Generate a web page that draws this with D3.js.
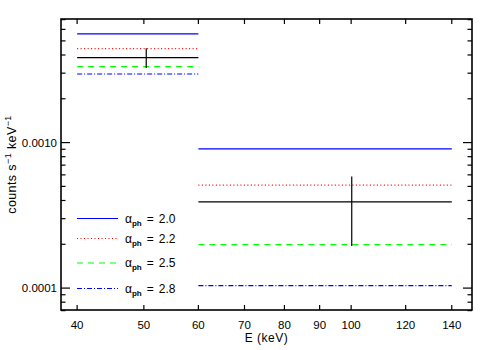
<!DOCTYPE html>
<html>
<head>
<meta charset="utf-8">
<script src="https://cdn.jsdelivr.net/npm/d3@7/dist/d3.min.js"></script>
<style>
  body { margin: 0; background: #fff; }
  text { font-family: "Liberation Sans", Arial, sans-serif; }
</style>
</head>
<body>
<div id="chart"></div>
<script>
// energy bins (keV)
var binLo = [40, 60];
var binHi = [60, 140];

// model curves, one value per bin
var alphas = ['2.0', '2.2', '2.5', '2.8'];
var model20 = [0.00558, 0.000905];
var model22 = [0.00442, 0.00051];
var model25 = [0.00333, 0.000199];
var model28 = [0.00296, 0.000104];

// measured points
var dataE = [50.4, 100.2];
var dataVal = [0.00384, 0.000391];
var dataLo = [0.00326, 0.000195];
var dataHi = [0.00445, 0.000584];

var xTicks = [40, 50, 60, 70, 80, 90, 100, 120, 140];
var yMajor = [0.0001, 0.001];
var yMinor = [0.00007, 0.00008, 0.00009, 0.0002, 0.0003, 0.0004, 0.0005, 0.0006, 0.0007, 0.0008, 0.0009,
              0.002, 0.003, 0.004, 0.005, 0.006, 0.007];

var margin = {top: 19, right: 19, bottom: 40, left: 61},
    width = 491 - margin.left - margin.right,
    height = 350 - margin.top - margin.bottom;

var svg = d3.select("#chart")
    .append("svg")
      .attr("width", 491)
      .attr("height", 350)
    .append("g")
      .attr("transform", "translate(" + margin.left + "," + margin.top + ")");

var x = d3.scaleLog().domain([37.9, 149.8]).range([0, width]);
var y = d3.scaleLog().domain([0.0000707, 0.00707]).range([height, 0]);

var series = [
  {vals: model20, color: "#0000ff", dash: null},
  {vals: model22, color: "#ff0000", dash: "1,2.5"},
  {vals: model25, color: "#00ff00", dash: "6,5"},
  {vals: model28, color: "#0000ff", dash: "5,2,1,2"}
];

// model lines
series.forEach(function(s) {
  svg.append("g")
    .selectAll("line")
    .data(s.vals)
    .enter()
    .append("line")
    .attr("x1", function(d, i) { return x(binLo[i]); })
    .attr("x2", function(d, i) { return x(binHi[i]); })
    .attr("y1", function(d) { return y(d); })
    .attr("y2", function(d) { return y(d); })
    .style("stroke", s.color)
    .style("stroke-width", 1.2)
    .style("stroke-dasharray", s.dash);
});

// data: horizontal bin width + vertical error
svg.append("g")
  .selectAll("line")
  .data(dataVal)
  .enter()
  .append("line")
  .attr("x1", function(d, i) { return x(binLo[i]); })
  .attr("x2", function(d, i) { return x(binHi[i]); })
  .attr("y1", function(d) { return y(d); })
  .attr("y2", function(d) { return y(d); })
  .style("stroke", "#000")
  .style("stroke-width", 1.2);

svg.append("g")
  .selectAll("line")
  .data(dataE)
  .enter()
  .append("line")
  .attr("x1", function(d) { return x(d); })
  .attr("x2", function(d) { return x(d); })
  .attr("y1", function(d, i) { return y(dataLo[i]); })
  .attr("y2", function(d, i) { return y(dataHi[i]); })
  .style("stroke", "#000")
  .style("stroke-width", 1.2);

// frame
svg.append("rect")
  .attr("width", width)
  .attr("height", height)
  .style("fill", "none")
  .style("stroke", "#000")
  .style("stroke-width", 1.6);

// ticks, mirrored on all four sides
var tickG = svg.append("g").style("stroke", "#000").style("stroke-width", 1.2);
xTicks.forEach(function(t) {
  tickG.append("line").attr("x1", x(t)).attr("x2", x(t)).attr("y1", height).attr("y2", height - 5);
  tickG.append("line").attr("x1", x(t)).attr("x2", x(t)).attr("y1", 0).attr("y2", 5);
});
yMajor.forEach(function(t) {
  tickG.append("line").attr("x1", 0).attr("x2", 9).attr("y1", y(t)).attr("y2", y(t));
  tickG.append("line").attr("x1", width).attr("x2", width - 9).attr("y1", y(t)).attr("y2", y(t));
});
yMinor.forEach(function(t) {
  tickG.append("line").attr("x1", 0).attr("x2", 4.5).attr("y1", y(t)).attr("y2", y(t));
  tickG.append("line").attr("x1", width).attr("x2", width - 4.5).attr("y1", y(t)).attr("y2", y(t));
});

// tick labels
svg.append("g")
  .selectAll("text")
  .data(xTicks)
  .enter()
  .append("text")
  .attr("x", function(d) { return x(d); })
  .attr("y", height + 19)
  .attr("text-anchor", "middle")
  .style("font-size", "11.5px")
  .text(function(d) { return d; });

svg.append("g")
  .selectAll("text")
  .data(yMajor)
  .enter()
  .append("text")
  .attr("x", -4)
  .attr("y", function(d) { return y(d) + 4; })
  .attr("text-anchor", "end")
  .style("font-size", "11.5px")
  .text(function(d) { return d3.format(".4f")(d); });

// axis titles
svg.append("text")
  .attr("x", width / 2)
  .attr("y", height + 32)
  .attr("text-anchor", "middle")
  .style("font-size", "12px")
  .style("letter-spacing", "0.5px")
  .text("E (keV)");

var yl = svg.append("text")
  .attr("transform", "translate(-45," + (height / 2) + ") rotate(-90)")
  .attr("text-anchor", "middle")
  .style("font-size", "12.5px")
  .style("letter-spacing", "0.4px");
yl.append("tspan").text("counts s");
yl.append("tspan").attr("dy", -5).style("font-size", "9px").text("−1");
yl.append("tspan").attr("dy", 5).text(" keV");
yl.append("tspan").attr("dy", -5).style("font-size", "9px").text("−1");

// legend
var legendY = [199.5, 219.5, 244, 269.5];
var legend = svg.append("g")
  .selectAll("g")
  .data(series)
  .enter()
  .append("g")
  .attr("transform", function(d, i) { return "translate(16," + legendY[i] + ")"; });

legend.append("line")
  .attr("x1", 0)
  .attr("x2", 41)
  .style("stroke", function(d) { return d.color; })
  .style("stroke-width", 1.2)
  .style("stroke-dasharray", function(d) { return d.dash; });

var lt = legend.append("text")
  .attr("x", 48)
  .attr("y", 4)
  .style("font-size", "12px");
lt.append("tspan").text("α");
lt.append("tspan").attr("dy", 3).style("font-size", "8px").style("font-weight", "bold").text("ph");
lt.append("tspan").attr("dy", -3).attr("dx", 5).text("=");
lt.append("tspan").attr("dx", 5).text(function(d, i) { return alphas[i]; });
</script>
</body>
</html>
